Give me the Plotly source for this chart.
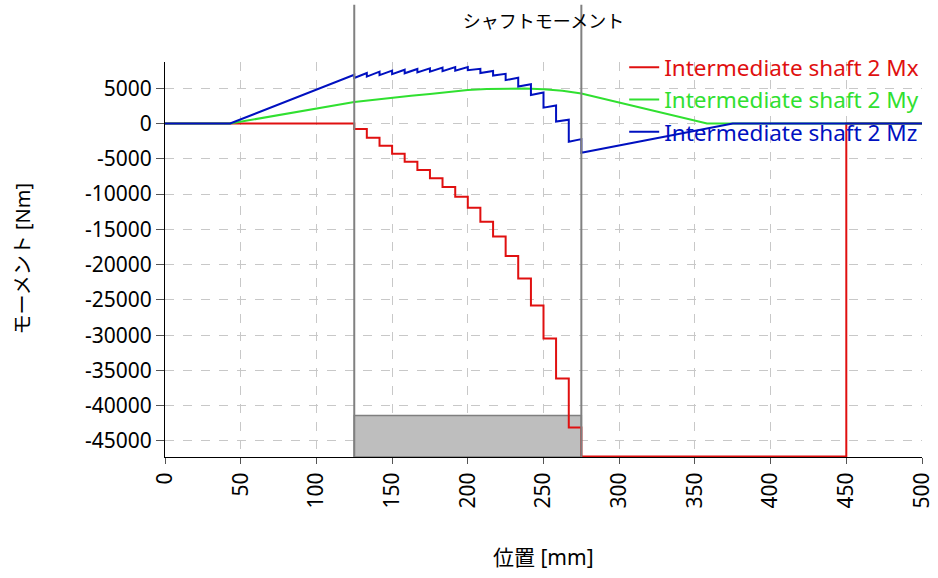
import plotly.graph_objects as go

# Shaft positions [mm] of the gear load stations
stations = [125.0, 133.3, 141.7, 150.0, 158.3, 166.7, 175.0, 183.3, 191.7, 200.0,
            208.3, 216.7, 225.0, 233.3, 241.7, 250.0, 258.3, 266.7, 275.0]

# Mx: torque level after each station, then released at the output end
mx_levels = [-780, -2010, -3140, -4280, -5410, -6590, -7760, -9000, -10370, -11930,
             -13910, -16030, -18770, -21980, -25810, -30480, -36150, -43090, -47200]
mx_end_pos = 450.0

# Mz: value just before / just after the drop at each station
mz_before = [6900, 7150, 7350, 7500, 7620, 7730, 7830, 7920, 8000, 8000,
             7750, 7450, 7050, 6500, 5580, 4400, 2560, 550, -2210]
mz_after = [6450, 6650, 6850, 7000, 7120, 7240, 7340, 7430, 7500, 7550,
            7150, 6800, 6150, 5250, 4050, 2250, 270, -2580, -4150]
bearing_left = 43.0
bearing_right = 375.0

# My: bending moment sampled along the shaft
my_pos = [0, 43, 125, 137.5, 150, 162.5, 175, 187.5, 200, 212.5, 225, 237.5,
          250, 262.5, 275, 358, 500]
my_val = [0, 0, 3050, 3370, 3650, 3950, 4200, 4500, 4750, 4900, 4980, 4970,
          4850, 4630, 4250, 0, 0]

x_ticks = [0, 50, 100, 150, 200, 250, 300, 350, 400, 450, 500]
y_ticks = [5000, 0, -5000, -10000, -15000, -20000, -25000, -30000, -35000, -40000, -45000]
y_ticktext = [str(v) for v in y_ticks]

gear_x = [125, 275]
gear_box_top = -41400

RED = "#e01010"
GREEN = "#30e030"
BLUE = "#0010c0"
FONT = "Noto Sans, Noto Sans CJK JP, sans-serif"

# Build step/sawtooth point lists from the arrays above
mx_x = [0.0] + stations + [mx_end_pos, 500.0]
mx_y = [0] + mx_levels + [0, 0]

mz_x = [0.0, bearing_left]
mz_y = [0, 0]
for s, b, a in zip(stations, mz_before, mz_after):
    mz_x += [s, s]
    mz_y += [b, a]
mz_x += [bearing_right, 500.0]
mz_y += [0, 0]

fig = go.Figure()
fig.add_trace(go.Scatter(x=mx_x, y=mx_y, mode="lines", line=dict(color=RED, width=2, shape="hv"),
                         name=f"<span style='color:{RED}'>Intermediate shaft 2 Mx</span>"))
fig.add_trace(go.Scatter(x=my_pos, y=my_val, mode="lines", line=dict(color=GREEN, width=2),
                         name=f"<span style='color:{GREEN}'>Intermediate shaft 2 My</span>"))
fig.add_trace(go.Scatter(x=mz_x, y=mz_y, mode="lines", line=dict(color=BLUE, width=2),
                         name=f"<span style='color:{BLUE}'>Intermediate shaft 2 Mz</span>"))

# Gear width box and its boundary lines
fig.add_shape(type="rect", xref="x", yref="y", x0=gear_x[0], x1=gear_x[1],
              y0=-47270, y1=gear_box_top, fillcolor="#bebebe",
              line=dict(color="#7f7f7f", width=1.5), layer="between")
for gx in gear_x:
    fig.add_shape(type="line", xref="x", yref="paper", x0=gx, x1=gx, y0=0, y1=1.145,
                  line=dict(color="#808080", width=2), layer="above")

fig.update_layout(
    width=938, height=578,
    margin=dict(l=165, r=16, t=62, b=121, autoexpand=False),
    paper_bgcolor="white", plot_bgcolor="white",
    font=dict(family=FONT, size=21, color="black"),
    title=dict(text="シャフトモーメント", x=(165 + 922) / 2 / 938,
               xanchor="center", y=1 - 22 / 578, yanchor="middle",
               font=dict(size=18, family=FONT, color="black")),
    showlegend=True,
    legend=dict(x=0.6066, xanchor="left", y=1.04, yanchor="top", bgcolor="rgba(0,0,0,0)",
                font=dict(size=22.5, family=FONT), tracegroupgap=0, itemwidth=30),
    xaxis=dict(range=[0, 500], tickvals=x_ticks, tickangle=-90, showline=True,
               linecolor="black", linewidth=1, ticks="outside", ticklen=6, tickcolor="#555",
               showgrid=True, gridcolor="#c8c8c8", griddash="dash", gridwidth=1,
               zeroline=False, tickfont=dict(size=21), automargin=False),
    yaxis=dict(range=[-47270, 8720], tickvals=y_ticks, ticktext=y_ticktext, showline=True,
               linecolor="black", linewidth=1, ticks="outside", ticklen=8, tickcolor="#555",
               showgrid=True, gridcolor="#c8c8c8", griddash="dash", gridwidth=1,
               zeroline=False, tickfont=dict(size=21), automargin=False),
    annotations=[
        dict(text="位置 [mm]", xref="paper", yref="paper", x=0.5, y=-(557 - 457) / 395,
             xanchor="center", yanchor="middle", showarrow=False, font=dict(size=21)),
        dict(text="モーメント [Nm]", xref="paper", yref="paper", x=-(165 - 22) / 757,
             y=0.5, xanchor="center", yanchor="middle", textangle=-90, showarrow=False,
             font=dict(size=20)),
    ],
)

fig.write_html("out.html")
